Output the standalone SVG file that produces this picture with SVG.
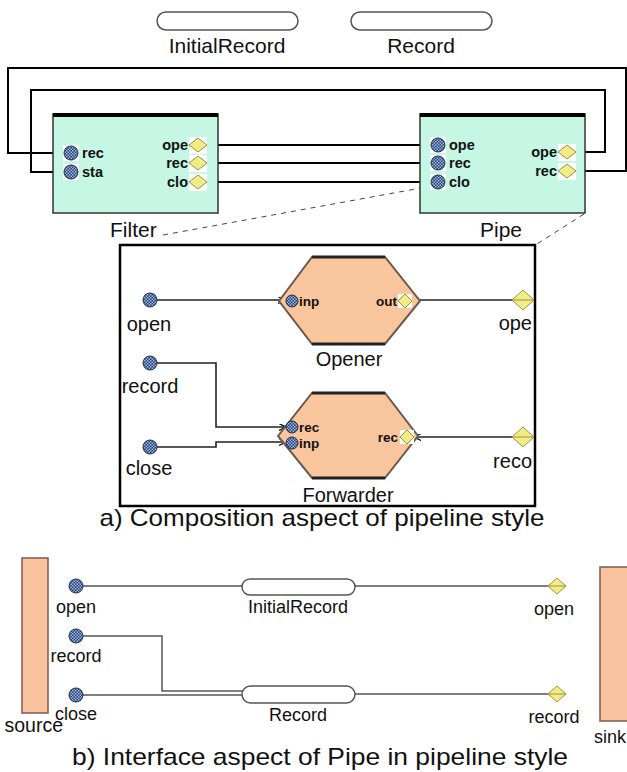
<svg xmlns="http://www.w3.org/2000/svg" width="627" height="772" viewBox="0 0 627 772">
<style>
text{font-family:"Liberation Sans",Arial,sans-serif;fill:#111}
.big{font-size:21px}
.mid{font-size:20px}
.sm{font-size:18px}
.pl{font-size:14.5px;font-weight:bold}
.pm{font-size:13.5px;font-weight:bold}
.cap{font-size:24px}
.wire{fill:none;stroke:#000;stroke-width:2}
.wm{fill:none;stroke:#222;stroke-width:1.6}
.wb{fill:none;stroke:#555;stroke-width:1.5}
.dash{fill:none;stroke:#444;stroke-width:1;stroke-dasharray:5 5}
.caps{fill:#fff;stroke:#555;stroke-width:1.5}
.comp{fill:#c6f6e4;stroke:#333;stroke-width:1.5}
.hex{fill:#f9c59d;stroke:#6a5a4e;stroke-width:2}
.edge{stroke:#222;stroke-width:3}
.pin{fill:url(#chk);stroke:#1b2c48;stroke-width:1}
.dia{fill:#f2ec86;stroke:#9a9440;stroke-width:1}
.bg{fill:#fff}
.blk{fill:#f9c3a0;stroke:#7a5c4c;stroke-width:1.5}
</style>
<defs>
<pattern id="chk" width="3" height="3" patternUnits="userSpaceOnUse">
<rect width="3" height="3" fill="#243f70"/>
<rect width="1.5" height="1.5" fill="#9fb9e2"/>
<rect x="1.5" y="1.5" width="1.5" height="1.5" fill="#9fb9e2"/>
</pattern>
<marker id="arr" viewBox="0 0 8 8" refX="7" refY="4" markerWidth="7" markerHeight="7" orient="auto" markerUnits="userSpaceOnUse">
<path d="M0,0 L8,4 L0,8" fill="none" stroke="#111" stroke-width="1.5"/>
</marker>
</defs>

<!-- ===== a) top composition ===== -->
<g id="InitialRecordTop">
<rect class="caps" x="157" y="12" width="141" height="18" rx="9"/>
<text class="big" x="227" y="53" text-anchor="middle">InitialRecord</text>
</g>
<g id="RecordTop">
<rect class="caps" x="351" y="12" width="141" height="18" rx="9"/>
<text class="big" x="421" y="53" text-anchor="middle">Record</text>
</g>

<g id="connectors-top">
<path class="wire" d="M64,153 H8 V68 H626 V171 H576"/>
<path class="wire" d="M64,172 H31 V90 H605 V152 H576"/>
<path class="wire" d="M207,145 H431"/>
<path class="wire" d="M207,163 H431"/>
<path class="wire" d="M207,182 H431"/>
<path class="dash" d="M163,235 L432,186"/>
<path class="dash" d="M584,214 L537,244"/>
</g>

<g id="Filter">
<rect class="comp" x="53" y="114" width="165" height="99"/>
<line x1="53" y1="115" x2="218" y2="115" stroke="#000" stroke-width="4"/>
<rect class="bg" x="63" y="145" width="16" height="16"/>
<rect class="bg" x="63" y="164" width="16" height="16"/>
<circle class="pin" cx="71" cy="153" r="7"/>
<circle class="pin" cx="71" cy="172" r="7"/>
<text class="pl" x="82" y="158">rec</text>
<text class="pl" x="82" y="177">sta</text>
<rect class="bg" x="189" y="137" width="18" height="17"/>
<rect class="bg" x="189" y="155" width="18" height="17"/>
<rect class="bg" x="189" y="174" width="18" height="17"/>
<polygon class="dia" points="189,145 198,138 207,145 198,152"/>
<polygon class="dia" points="189,163 198,156 207,163 198,170"/>
<polygon class="dia" points="189,182 198,175 207,182 198,189"/>
<text class="pl" x="188" y="150" text-anchor="end">ope</text>
<text class="pl" x="188" y="168" text-anchor="end">rec</text>
<text class="pl" x="188" y="187" text-anchor="end">clo</text>
<text class="big" x="110" y="237">Filter</text>
</g>

<g id="Pipe">
<rect class="comp" x="420" y="114" width="165" height="99"/>
<line x1="420" y1="115" x2="585" y2="115" stroke="#000" stroke-width="4"/>
<rect class="bg" x="430" y="137" width="16" height="16"/>
<rect class="bg" x="430" y="155" width="16" height="16"/>
<rect class="bg" x="430" y="174" width="16" height="16"/>
<circle class="pin" cx="438" cy="145" r="7"/>
<circle class="pin" cx="438" cy="163" r="7"/>
<circle class="pin" cx="438" cy="182" r="7"/>
<text class="pl" x="449" y="150">ope</text>
<text class="pl" x="449" y="168">rec</text>
<text class="pl" x="449" y="187">clo</text>
<rect class="bg" x="558" y="144" width="18" height="17"/>
<rect class="bg" x="558" y="163" width="18" height="17"/>
<polygon class="dia" points="558,152 567,145 576,152 567,159"/>
<polygon class="dia" points="558,171 567,164 576,171 567,178"/>
<text class="pl" x="557" y="157" text-anchor="end">ope</text>
<text class="pl" x="557" y="176" text-anchor="end">rec</text>
<text class="big" x="480" y="237">Pipe</text>
</g>

<!-- ===== middle: Pipe internals ===== -->
<rect x="120" y="245" width="415" height="261" fill="#fff" stroke="#000" stroke-width="2.5"/>

<g id="connectors-mid">
<path class="wm" d="M157,300 H284" marker-end="url(#arr)"/>
<path class="wm" d="M512,300 H413" marker-end="url(#arr)"/>
<path class="wm" d="M157,363 H216 V427 H285" marker-end="url(#arr)"/>
<path class="wm" d="M157,447 H216 V442 H285" marker-end="url(#arr)"/>
<path class="wm" d="M512,437 H415" marker-end="url(#arr)"/>
</g>

<g id="open-in">
<circle class="pin" cx="150" cy="300" r="7"/>
<text class="mid" x="149" y="331" text-anchor="middle">open</text>
</g>
<g id="record-in">
<circle class="pin" cx="150" cy="363" r="7"/>
<text class="mid" x="150" y="393" text-anchor="middle">record</text>
</g>
<g id="close-in">
<circle class="pin" cx="150" cy="447" r="7"/>
<text class="mid" x="149" y="475" text-anchor="middle">close</text>
</g>

<g id="Opener">
<polygon class="hex" points="279,301 312,257 385,257 420,301 385,344 312,344"/>
<line class="edge" x1="312" y1="257" x2="385" y2="257"/>
<line class="edge" x1="312" y1="344" x2="385" y2="344"/>
<circle class="pin" cx="292" cy="301" r="6"/>
<text class="pm" x="299" y="306">inp</text>
<rect class="bg" x="398" y="294" width="14" height="14"/>
<polygon class="dia" points="398,301 405,294 412,301 405,308"/>
<text class="pm" x="397" y="306" text-anchor="end">out</text>
<text class="mid" x="349" y="366" text-anchor="middle">Opener</text>
</g>

<g id="Forwarder">
<polygon class="hex" points="278,436 312,393 385,393 418,436 385,478 312,478"/>
<line class="edge" x1="312" y1="393" x2="385" y2="393"/>
<line class="edge" x1="312" y1="478" x2="385" y2="478"/>
<circle class="pin" cx="292" cy="427" r="6"/>
<circle class="pin" cx="292" cy="443" r="6"/>
<text class="pm" x="299" y="432">rec</text>
<text class="pm" x="299" y="448">inp</text>
<rect class="bg" x="400" y="430" width="14" height="14"/>
<polygon class="dia" points="400,437 407,430 414,437 407,444"/>
<text class="pm" x="398" y="442" text-anchor="end">rec</text>
<text class="mid" x="348" y="502" text-anchor="middle">Forwarder</text>
</g>

<g id="ope-out">
<polygon class="dia" points="512,300 523,290 534,300 523,310"/>
<line x1="512" y1="300" x2="534" y2="300" stroke="#9a9440" stroke-width="1"/>
<text class="mid" x="532" y="330" text-anchor="end">ope</text>
</g>
<g id="reco-out">
<polygon class="dia" points="512,437 523,427 534,437 523,447"/>
<line x1="512" y1="437" x2="534" y2="437" stroke="#9a9440" stroke-width="1"/>
<text class="mid" x="532" y="468" text-anchor="end">reco</text>
</g>

<text class="cap" x="322" y="526" text-anchor="middle" textLength="445" lengthAdjust="spacingAndGlyphs">a) Composition aspect of pipeline style</text>

<!-- ===== b) interface aspect ===== -->
<g id="source">
<rect class="blk" x="22" y="558" width="26" height="155"/>
<text x="63" y="732" text-anchor="end" font-size="19.5">source</text>
</g>
<g id="sink">
<rect class="blk" x="600" y="567" width="30" height="154"/>
<text class="sm" x="594" y="743">sink</text>
</g>

<g id="connectors-bottom">
<path class="wb" d="M83,586 H242"/>
<path class="wb" d="M83,636 H162 V691 H244"/>
<path class="wb" d="M83,695 H244"/>
<path class="wb" d="M355,586 H548"/>
<path class="wb" d="M355,694 H548"/>
</g>

<g id="open-b">
<circle class="pin" cx="76" cy="586" r="7"/>
<text class="sm" x="76" y="613" text-anchor="middle">open</text>
</g>
<g id="record-b">
<circle class="pin" cx="76" cy="636" r="7"/>
<text class="sm" x="76" y="662" text-anchor="middle">record</text>
</g>
<g id="close-b">
<circle class="pin" cx="76" cy="695" r="7"/>
<text class="sm" x="76" y="720" text-anchor="middle">close</text>
</g>

<g id="InitialRecord">
<rect class="caps" x="242" y="579" width="113" height="16" rx="8"/>
<text class="sm" x="298" y="613" text-anchor="middle">InitialRecord</text>
</g>
<g id="Record">
<rect class="caps" x="242" y="686" width="113" height="17" rx="8.5"/>
<text class="sm" x="298" y="721" text-anchor="middle">Record</text>
</g>

<g id="open-out-b">
<polygon class="dia" points="548,586 557,578 566,586 557,594"/>
<line x1="548" y1="586" x2="566" y2="586" stroke="#9a9440" stroke-width="1"/>
<text class="sm" x="554" y="615" text-anchor="middle">open</text>
</g>
<g id="record-out-b">
<polygon class="dia" points="548,694 557,686 566,694 557,702"/>
<line x1="548" y1="694" x2="566" y2="694" stroke="#9a9440" stroke-width="1"/>
<text class="sm" x="554" y="723" text-anchor="middle">record</text>
</g>

<text class="cap" x="320" y="765" text-anchor="middle" textLength="496" lengthAdjust="spacingAndGlyphs">b) Interface aspect of Pipe in pipeline style</text>
</svg>
